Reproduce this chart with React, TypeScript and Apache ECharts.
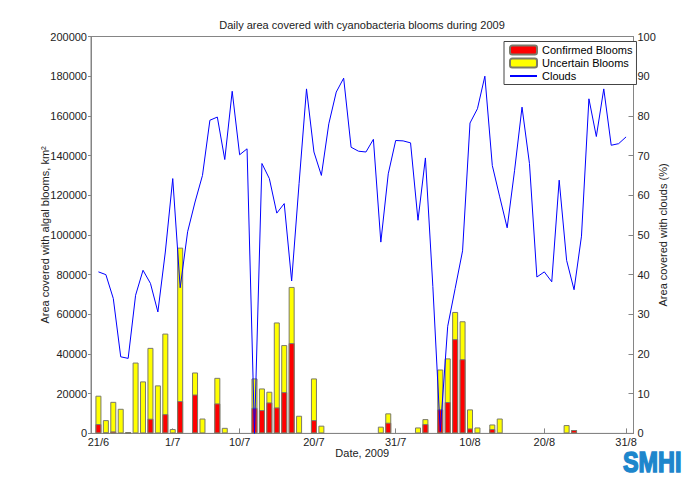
import React, { useEffect, useRef } from "react";
import * as echarts from "echarts";

// x positions are day indices: 0 = 21/6/2009 ... 71 = 31/8/2009
const tickDays = [0, 10, 19, 29, 40, 50, 60, 71];
const tickLabels = ["21/6", "1/7", "10/7", "20/7", "31/7", "10/8", "20/8", "31/8"];

// km2, confirmed (red) part per day
const confirmed = [
  4700, 300, 1000, 0, 300, 0, 0, 7400, 0, 9700,
  0, 16300, 0, 19600, 0, 0, 15100, 0, 0, 0,
  0, 12900, 11750, 15600, 13100, 20800, 45500, 0, 0, 6700,
  0, 0, 0, 0, 0, 0, 0, 0, 0, 5400,
  0, 0, 0, 0, 4700, 0, 12100, 15800, 47500, 37400,
  2500, 0, 0, 2200, 0, 0, 0, 0, 0, 0,
  0, 0, 0, 0, 1700, 0, 0, 0, 0, 0,
  0, 0,
];

// km2, uncertain (yellow) part per day, drawn on top of confirmed
const uncertain = [
  14300, 6400, 14900, 12400, 400, 35700, 26200, 35700, 24200, 40600,
  2200, 77300, 0, 11100, 7500, 0, 12900, 2800, 0, 0,
  0, 14800, 10900, 5400, 42800, 23700, 28300, 8900, 0, 21000,
  3900, 0, 0, 0, 0, 0, 0, 0, 3400, 4700,
  0, 0, 0, 3000, 2500, 0, 20100, 22000, 13700, 19100,
  9600, 3000, 0, 2300, 7500, 0, 0, 0, 0, 0,
  0, 0, 0, 4200, 0, 0, 0, 0, 0, 0,
  0, 0,
];

// % cloud cover per day
const clouds = [
  40.7, 40.0, 34.0, 19.3, 18.9, 34.8, 41.1, 37.8, 30.6, 45.7,
  64.2, 36.7, 50.8, 58.3, 65.0, 78.9, 79.7, 69.0, 86.2, 70.2,
  71.7, 0.0, 68.0, 64.2, 55.5, 57.9, 38.4, 63.0, 86.8, 70.9,
  65.0, 78.0, 86.0, 89.5, 72.1, 71.1, 70.9, 74.1, 48.2, 65.4,
  73.8, 73.7, 73.2, 53.7, 69.4, 37.0, 0.5, 27.0, 36.5, 46.0,
  78.2, 81.8, 90.0, 67.5, 59.6, 51.8, 66.3, 82.2, 68.0, 39.4,
  40.7, 38.2, 63.8, 43.6, 36.2, 49.7, 84.3, 74.8, 86.8, 72.6,
  73.0, 74.7,
];

const FONT = "'Liberation Sans', Arial, Helvetica, sans-serif";
const AXIS_COLOR = "#858585";
const TEXT_COLOR = "#222";
const BAR_BORDER = "#7a7a6a";

export default function App() {
  const ref = useRef<HTMLDivElement>(null);

  useEffect(() => {
    if (!ref.current) return;
    const chart = echarts.init(ref.current, undefined, { renderer: "svg" });

    // yellow bar reaches the total (confirmed + uncertain); red is drawn over its lower part
    const totalPairs = confirmed.map((c, i) => {
      const t = c + uncertain[i];
      return [i, t === 0 ? null : t];
    });
    const confirmedPairs = confirmed.map((c, i) => [i, c === 0 ? null : c]);

    const option: any = {
      animation: false,
      backgroundColor: "#fff",
      textStyle: { fontFamily: FONT },
      grid: {
        left: 91,
        right: 66.5,
        top: 36.5,
        bottom: 53.6,
        show: true,
        borderColor: AXIS_COLOR,
        borderWidth: 1,
        backgroundColor: "transparent",
      },
      legend: {
        data: [
          { name: "Confirmed Blooms" },
          { name: "Uncertain Blooms" },
          { name: "Clouds", itemStyle: { opacity: 0 } },
        ],
        orient: "vertical",
        left: 504,
        top: 41.5,
        itemWidth: 27,
        itemHeight: 9,
        itemGap: 0,
        padding: [2, 4, 2, 5],
        borderColor: "#444",
        borderWidth: 1,
        backgroundColor: "#fff",
        textStyle: { fontSize: 11, color: "#000", lineHeight: 13, fontFamily: FONT },
      },
      graphic: [
        {
          type: "text",
          x: 362,
          y: 25,
          style: {
            text: "Daily area covered with cyanobacteria blooms during 2009",
            align: "center",
            verticalAlign: "middle",
            fontSize: 11,
            fontFamily: FONT,
            fill: TEXT_COLOR,
          },
        },
        {
          type: "text",
          x: 623,
          y: 447,
          scaleX: 0.78,
          style: {
            text: "SMHI",
            align: "left",
            verticalAlign: "top",
            fontSize: 30,
            fontWeight: "bold",
            fontFamily: FONT,
            fill: "#1d86cc",
            stroke: "#1d86cc",
            lineWidth: 1.6,
          },
        },
      ],
      xAxis: {
        type: "value",
        min: -1,
        max: 72,
        name: "Date, 2009",
        nameLocation: "middle",
        nameGap: 14,
        nameMoveOverlap: false,
        nameTextStyle: { fontSize: 11, color: TEXT_COLOR, fontFamily: FONT },
        axisLine: { show: true, onZero: false, lineStyle: { color: AXIS_COLOR, width: 1 } },
        axisTick: {
          show: true,
          inside: true,
          length: 5,
          customValues: tickDays,
          lineStyle: { color: AXIS_COLOR },
        },
        axisLabel: {
          show: true,
          customValues: tickDays,
          margin: 3,
          fontSize: 11,
          color: TEXT_COLOR,
          fontFamily: FONT,
          formatter: (v: number) => {
            const i = tickDays.indexOf(Math.round(v));
            return i >= 0 ? tickLabels[i] : "";
          },
        },
        splitLine: { show: false },
      },
      yAxis: [
        {
          type: "value",
          min: 0,
          max: 200000,
          interval: 20000,
          position: "left",
          name: "Area covered with algal blooms, km²",
          nameLocation: "middle",
          nameGap: 41,
          nameMoveOverlap: false,
          nameTextStyle: { fontSize: 11, color: TEXT_COLOR, fontFamily: FONT },
          axisLine: { show: true, onZero: false, lineStyle: { color: AXIS_COLOR, width: 1 } },
          axisTick: { show: true, inside: false, length: 3, lineStyle: { color: AXIS_COLOR } },
          axisLabel: {
            margin: 4,
            fontSize: 11,
            color: TEXT_COLOR,
            fontFamily: FONT,
            formatter: (v: number) => String(v),
          },
          splitLine: { show: false },
        },
        {
          type: "value",
          min: 0,
          max: 100,
          interval: 10,
          position: "right",
          name: "Area covered with clouds (%)",
          nameLocation: "middle",
          nameGap: 24,
          nameMoveOverlap: false,
          nameTextStyle: { fontSize: 11, color: TEXT_COLOR, fontFamily: FONT },
          axisLine: { show: true, onZero: false, lineStyle: { color: AXIS_COLOR, width: 1 } },
          axisTick: { show: true, inside: true, length: 5, lineStyle: { color: AXIS_COLOR } },
          axisLabel: {
            margin: 4,
            fontSize: 11,
            color: TEXT_COLOR,
            fontFamily: FONT,
            formatter: (v: number) => String(v),
          },
          splitLine: { show: false },
        },
      ],
      series: [
        {
          name: "Uncertain Blooms",
          type: "bar",
          yAxisIndex: 0,
          barWidth: 6,
          barGap: "-100%",
          itemStyle: { color: "#ffff00", borderColor: BAR_BORDER, borderWidth: 1 },
          data: totalPairs,
        },
        {
          name: "Confirmed Blooms",
          type: "bar",
          yAxisIndex: 0,
          barWidth: 6,
          barGap: "-100%",
          itemStyle: { color: "#ff0000", borderColor: BAR_BORDER, borderWidth: 1 },
          data: confirmedPairs,
        },
        {
          name: "Clouds",
          type: "line",
          yAxisIndex: 1,
          symbol: "none",
          showSymbol: false,
          lineStyle: { color: "#0000ff", width: 1 },
          itemStyle: { color: "#0000ff" },
          data: clouds.map((v, i) => [i, v]),
          z: 3,
        },
      ],
    };

    chart.setOption(option);
    return () => chart.dispose();
  }, []);

  return (
    <div
      ref={ref}
      style={{ position: "fixed", left: 0, top: 0, width: 700, height: 487 }}
    />
  );
}
